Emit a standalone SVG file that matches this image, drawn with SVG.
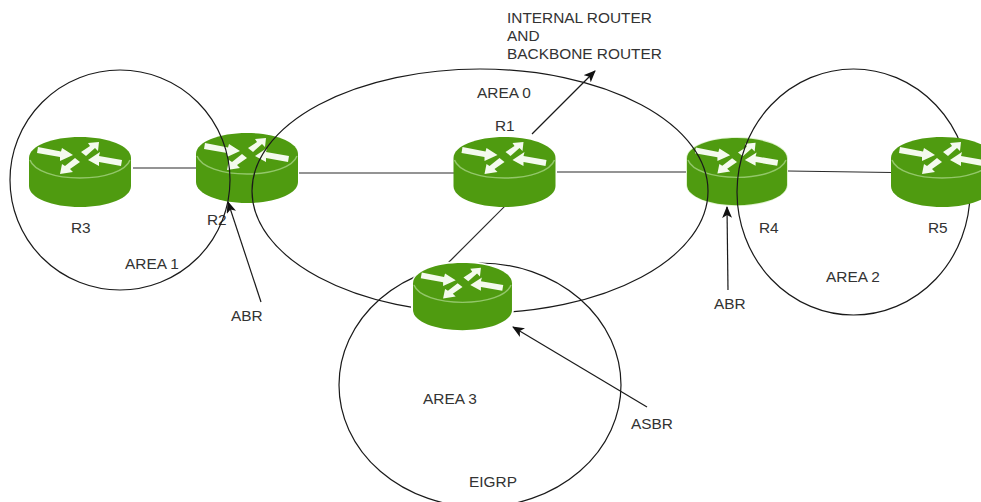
<svg xmlns="http://www.w3.org/2000/svg" width="981" height="502" viewBox="0 0 981 502">
<style>
text{font-family:"Liberation Sans",Arial,sans-serif;font-size:15.4px;fill:#333}
.area{fill:none;stroke:#1a1a1a;stroke-width:1.2}
.link{fill:none;stroke:#2a2a2a;stroke-width:1.2}
.arrow{fill:none;stroke:#1a1a1a;stroke-width:1.2;marker-end:url(#tip)}
.body{fill:#4f9b10}
.ring{fill:none;stroke:#93c76a;stroke-width:1.5}
.wa{fill:#f4faee}
.halo{fill:none;stroke:#dff3cf;stroke-width:2}
</style>
<defs>
<marker id="tip" viewBox="0 0 12 10" refX="11" refY="5" markerWidth="12" markerHeight="10" markerUnits="userSpaceOnUse" orient="auto">
<path d="M0 0L12 5L0 10L3 5Z" fill="#111"/>
</marker>
<g id="router">
<path class="body" d="M-51 21V49C-51 61-28 70 0 70S51 61 51 49V21C51 9 28 0 0 0S-51 9-51 21Z"/>
<path class="ring" d="M-50 23C-46 34-25 41 0 41S46 34 50 23"/>
<path class="wa" d="M-42 10L-19 14.500L-18 11L-7 18L-20 24L-20 20L-43 16Z"/>
<path class="wa" d="M1 15L10 9L8 6L19 5L18 14L15 11L6 19Z"/>
<path class="wa" d="M42 23L19 19L20 15L8 23L19 29L19 25L41 29Z"/>
<path class="wa" d="M0 25L-10 32L-7 35L-20 37L-18 27L-15 29L-5 21Z"/>
</g>
</defs>
<g id="connectors">
<line class="link" x1="133" y1="168" x2="197" y2="168"/>
<line class="link" x1="299" y1="173" x2="454" y2="173"/>
<line class="link" x1="557" y1="172" x2="687" y2="172"/>
<line class="link" x1="788" y1="171" x2="892" y2="172.500"/>
<line class="link" x1="513" y1="198" x2="447" y2="264"/>
<line class="arrow" x1="261" y1="302" x2="228" y2="202"/>
<line class="arrow" x1="532" y1="134" x2="595" y2="71"/>
<line class="arrow" x1="728" y1="290" x2="727" y2="207"/>
<line class="arrow" x1="647" y1="407" x2="513" y2="327"/>
</g>
<g id="R2"><use href="#router" transform="translate(247 133)"/><text x="207" y="225">R2</text></g>
<g id="R4"><path class="halo" d="M687 159V184C687 196 709 205 737 205S787 196 787 184V159C787 147 765 138 737 138S687 147 687 159Z"/><use href="#router" transform="translate(737 138) scale(.98 .96)"/><text x="759" y="233">R4</text></g>
<g id="R3"><use href="#router" transform="translate(80 137)"/><text x="71" y="233">R3</text></g>
<g id="area1"><ellipse class="area" cx="120" cy="180" rx="110" ry="110"/><text x="125" y="269">AREA 1</text></g>
<g id="area0"><ellipse class="area" cx="480" cy="191" rx="228" ry="122"/><text x="477" y="98">AREA 0</text></g>
<g id="area2"><ellipse class="area" cx="853.500" cy="192" rx="116.500" ry="123"/><text x="826" y="282">AREA 2</text></g>
<g id="area3"><ellipse class="area" cx="480" cy="385" rx="141" ry="122"/><text x="423" y="404">AREA 3</text><text x="469" y="487">EIGRP</text></g>
<g id="R1"><use href="#router" transform="translate(504.500 137)"/><text x="495" y="131">R1</text></g>
<g id="R5"><use href="#router" transform="translate(942 137)"/><text x="928" y="233">R5</text></g>
<g id="RE"><path d="M411 284V309C411 323 434 333 462.500 333S514 323 514 309V284C514 272 491 261 462.500 261S411 272 411 284Z" fill="#fff"/><use href="#router" transform="translate(462.500 263) scale(.97 .96)"/></g>
<g id="labels">
<text x="507" y="23">INTERNAL ROUTER</text>
<text x="507" y="41">AND</text>
<text x="507" y="59">BACKBONE ROUTER</text>
<text x="231" y="321">ABR</text>
<text x="714" y="309">ABR</text>
<text x="631" y="429">ASBR</text>
</g>
</svg>
